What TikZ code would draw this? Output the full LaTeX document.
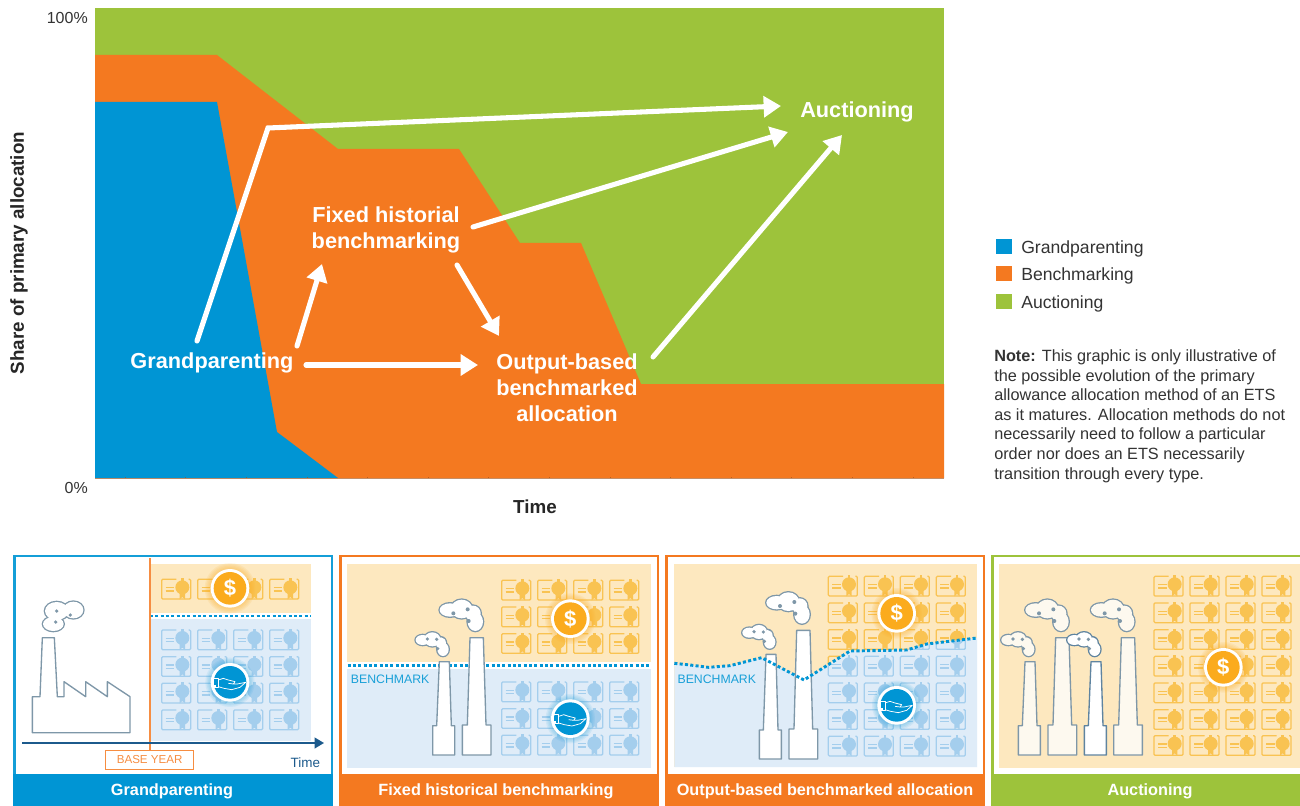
\documentclass[tikz,border=0pt]{standalone}
\usepackage{fontspec}
\setmainfont{Liberation Sans}
\usetikzlibrary{arrows.meta,calc}
\definecolor{cBlue}{HTML}{0095D4}
\definecolor{cOrange}{HTML}{F47920}
\definecolor{cGreen}{HTML}{9DC33B}
\definecolor{bgOr}{HTML}{FDE8BF}
\definecolor{bgBl}{HTML}{DFECF8}
\definecolor{certOr}{HTML}{F9C352}
\definecolor{certBl}{HTML}{A4CEED}
\definecolor{coinOr}{HTML}{FBAB1D}
\definecolor{smoke}{HTML}{7E97A8}
\definecolor{smokeDk}{HTML}{5F84A0}
\definecolor{cream}{HTML}{FDF9EF}
\definecolor{axisBlue}{HTML}{1C5A8C}
\definecolor{txt}{HTML}{333333}
\tikzset{
  wline/.style={draw=white,line width=3.8pt,line cap=round,-{Triangle[length=13pt,width=15.5pt]}},
  chartlbl/.style={text=white,font=\bfseries\fontsize{16.3pt}{19.6pt}\selectfont,align=center,inner sep=0pt},
  footlbl/.style={text=white,font=\bfseries\fontsize{12.2pt}{14pt}\selectfont,inner sep=0pt},
  axislbl/.style={text=txt,font=\fontsize{12pt}{14pt}\selectfont,inner sep=0pt},
  axisttl/.style={text=black!85,font=\bfseries\fontsize{14.1pt}{16pt}\selectfont,inner sep=0pt},
  leglbl/.style={text=txt,font=\fontsize{13.2pt}{15pt}\selectfont,inner sep=0pt,anchor=west},
  bench/.style={text=cBlue!90!white,font=\fontsize{9.2pt}{11pt}\selectfont,inner sep=0pt,anchor=west},
  zoomed/.style={x=0.25pt,y=-0.25pt},
  dotline/.style={draw=cBlue,line width=2.2pt,dash pattern=on 2.3pt off 1.7pt},
  panelline/.style={line width=2.2pt},
  stackline/.style={line width=1pt,line join=round},
}
% certificate, in zoomed units; x, y, colour
\newcommand{\cert}[3]{%
  \begin{scope}[shift={(#1,#2)}]
    \draw[#3,line width=.95pt,rounded corners=.8pt] (44,3) -- (0,3) -- (0,62) -- (87,62) -- (87,3) -- (81,3);
    \draw[#3,line width=.95pt] (12,28) -- (38,28) (12,38) -- (38,38);
    \fill[#3] (58,0) rectangle (66,10);
    \fill[#3] (54,40) -- (54,63) -- (62,56) -- (70,63) -- (70,40) -- cycle;
    \fill[#3] (62,27) circle[radius=21];
  \end{scope}}
% cloud made of lobes: list x/y/rx/ry, fill, line colour
\newcommand{\puff}[3]{%
  \foreach \a/\b/\c/\d in {#1} \fill[#3] (\a,\b) ellipse[x radius=\c,y radius=\d];
  \foreach \a/\b/\c/\d in {#1} \fill[#2] (\a,\b) ellipse[x radius=\c-4,y radius=\d-4];}
% big and small cloud, x and y shift, fill, line colour
\newcommand{\bigcloud}[4]{%
  \begin{scope}[shift={(#1,#2)}]
    \puff{345/180/35/24,380/177/36/32,414/190/27/27,421/215/27/32}{#3}{#4}
    \foreach \p in {(355,190),(398,178),(401,213)} \fill[smoke] \p circle[radius=6];
  \end{scope}}
\newcommand{\smcloud}[4]{%
  \begin{scope}[shift={(#1,#2)}]
    \puff{263/270/25/19,292/268/28/25,318/280/19/22,324/298/21/24}{#3}{#4}
    \foreach \p in {(277,267),(305,268),(308,296)} \fill[smoke] \p circle[radius=5.5];
  \end{scope}}
% chimneys: x, top, shoulder, bottom, fill, line colour
\newcommand{\smchim}[6]{\draw[#6,fill=#5,stackline] (#1,#4) -- (#1,#3) -- ({#1+12},#3) -- ({#1+20},#2) -- ({#1+50},#2) -- ({#1+56},#3) -- ({#1+66},#3) -- ({#1+66},#4) -- cycle;}
\newcommand{\lgchim}[6]{\draw[#6,fill=#5,stackline] (#1,#4) -- (#1,#3) -- ({#1+15},#3) -- ({#1+23},#2) -- ({#1+63},#2) -- ({#1+71},#3) -- ({#1+86},#3) -- ({#1+86},#4) -- cycle;}
% coin with dollar: name, x, y
\newcommand{\coin}[3]{%
  \foreach \r in {76,72,68,64,60} \fill[coinOr,opacity=.1] (#2,#3) circle[radius=\r];
  \fill[white] (#2,#3) circle[radius=58];
  \fill[coinOr] (#2,#3) circle[radius=49];
  \node[text=white,inner sep=0pt,font=\bfseries\fontsize{16.5pt}{18pt}\selectfont] (#1) at (#2,#3) {\$};}
% blue hand badge: x, y
\newcommand{\hand}[2]{%
  \foreach \r in {74,70,66,62} \fill[cBlue,opacity=.08] (#1,#2) circle[radius=\r];
  \fill[white] (#1,#2) circle[radius=58];
  \fill[cBlue] (#1,#2) circle[radius=49];
  \begin{scope}[shift={(#1,#2)}]
    \draw[white,line width=.55pt,line join=round] (-50,-13) rectangle (-35,15);
    \fill[white] (-50,8) rectangle (-42,15);
    \draw[white,line width=.55pt,line join=round] (-35,-7) -- (-20,-12) -- (-5,-7) -- (15,-2) -- (10,5) -- (-5,3) (10,5) -- (22,5) -- (47,0) -- (30,15) -- (5,22) -- (-18,18) -- (-35,13);
  \end{scope}}
\begin{document}
\begin{tikzpicture}[x=0.75pt,y=-0.75pt]
\useasboundingbox (0,0) rectangle (1300,806);
\fill[white] (0,0) rectangle (1300,806);
% chart
\fill[cGreen] (95,8) rectangle (944,478);
\fill[cOrange] (95,55) -- (217,55) -- (338,149) -- (459,149) -- (520,243) -- (581,243) -- (641,384) -- (944,384) -- (944,478) -- (95,478) -- cycle;
\fill[cBlue] (95,102) -- (217,102) -- (277,432) -- (338,478) -- (95,478) -- cycle;
\draw[black!35!cOrange,line width=.4pt,opacity=.6] (95,478) -- (944,478);
\foreach \k in {0,...,13} \draw[black!35!cOrange,line width=.4pt,opacity=.6] ({125+60.6*\k},478) -- ({125+60.6*\k},476.5);
\node[axislbl,anchor=east] (top) at (88,18) {100\%};
\node[axislbl,anchor=east] (bot) at (88,488) {0\%};
\node[axisttl] (tm) at (535,507) {Time};
\node[axisttl,rotate=90] (sh) at (19,253) {Share of primary allocation};
% chart labels
\node[chartlbl] (gp) at (212,363) {Grandparenting};
\node[chartlbl] (fx) at (386,230) {Fixed historial\\benchmarking};
\node[chartlbl] (ob) at (567,388) {Output-based\\benchmarked\\allocation};
\node[chartlbl] (au) at (857,112) {Auctioning};
% connectors
\draw[wline] ($(gp)+(-15,-22)$) -- ($(gp)+(56,-235)$) -- ($(au)+(-76,-6)$);
\draw[wline] ($(gp)+(85,-17)$) -- ($(fx)+(-64,34)$);
\draw[wline] ($(gp)+(94,2)$) -- ($(ob)+(-89,-23)$);
\draw[wline] ($(fx)+(87,-3)$) -- ($(au)+(-69,20)$);
\draw[wline] ($(fx)+(71,35)$) -- ($(ob)+(-68,-52)$);
\draw[wline] ($(ob)+(86,-31)$) -- ($(au)+(-15,23)$);
% legend
\fill[cBlue] (996,239) rectangle (1012,254);
\fill[cOrange] (996,266) rectangle (1012,281);
\fill[cGreen] (996,294) rectangle (1012,309);
\node[leglbl] (l1) at (1021,249) {Grandparenting};
\node[leglbl] (l2) at (1021,276) {Benchmarking};
\node[leglbl] (l3) at (1021,304) {Auctioning};
\node[anchor=north west,inner sep=0pt,text=txt,align=left,font=\fontsize{12.2pt}{14.7pt}\selectfont] (note) at (994,349.5) {\textbf{Note:} This graphic is only illustrative of\\the possible evolution of the primary\\allowance allocation method of an ETS\\as it matures. Allocation methods do not\\necessarily need to follow a particular\\order nor does an ETS necessarily\\transition through every type.};
% panel frames
\draw[cBlue!92!white,panelline] (14.5,774) -- (14.5,556) -- (332,556) -- (332,774);
\fill[cBlue] (13,774) rectangle (333,806);
\draw[cOrange,panelline] (340.5,774) -- (340.5,556) -- (658,556) -- (658,774);
\fill[cOrange] (339,774) rectangle (659,806);
\draw[cOrange,panelline] (666.5,774) -- (666.5,556) -- (984,556) -- (984,774);
\fill[cOrange] (665,774) rectangle (985,806);
\draw[cGreen,panelline] (992.5,774) -- (992.5,556) -- (1300,556);
\fill[cGreen] (991,774) rectangle (1300,806);
\node[footlbl] (f1) at (172,791) {Grandparenting};
\node[footlbl] (f2) at (496,791) {Fixed historical benchmarking};
\node[footlbl] (f3) at (825,791) {Output-based benchmarked allocation};
\node[footlbl] (f4) at (1150,791) {Auctioning};
% panel 1
\begin{scope}[shift={(0,550)},zoomed]
  \fill[bgOr] (450,42) rectangle (933,190);
  \fill[bgBl] (450,206) rectangle (933,573);
  \foreach \x in {485,593,701,809} {
    \cert{\x}{85}{certOr}
    \foreach \y in {237,317,397,477} {\cert{\x}{\y}{certBl}}
  }
  \draw[dotline] (450,198) -- (933,198);
  \draw[cOrange!85!white,line width=.8pt] (450,25) -- (450,600);
  \draw[smoke,stackline] (97,548) -- (97,440) -- (120,440) -- (127,263) -- (163,263) -- (172,440) -- (192,440) -- (192,395) -- (257,440) -- (257,395) -- (322,440) -- (322,395) -- (390,440) -- (390,548) -- cycle;
  \puff{170/183/39/31,220/180/34/29,160/222/35/25}{white}{smoke}
  \foreach \p in {(170,183),(211,195),(167,216)} \fill[smoke] \p circle[radius=5.5];
  \draw[axisBlue,line width=1.4pt,-{Triangle[length=7pt,width=8pt]}] (67,579) -- (972,579);
  \node[draw=cOrange!85!white,line width=.8pt,fill=white,text=cOrange!85!white,inner sep=0pt,minimum width=66pt,minimum height=14pt,font=\fontsize{8.7pt}{10pt}\selectfont] (base) at (449,629.5) {BASE YEAR};
  \node[text=axisBlue,inner sep=0pt,font=\fontsize{10.1pt}{12pt}\selectfont] (t1) at (916,637) {Time};
  \coin{c1}{690}{115}
  \hand{690}{397}
\end{scope}
% panel 2
\begin{scope}[shift={(335,550)},zoomed]
  \fill[bgOr] (36,42) rectangle (948,336);
  \fill[bgBl] (36,358) rectangle (948,654);
  \foreach \x in {500,608,716,824} {
    \foreach \y in {88,168,248} {\cert{\x}{\y}{certOr}}
    \foreach \y in {393,473,553} {\cert{\x}{\y}{certBl}}
  }
  \draw[dotline] (38,347) -- (948,347);
  \node[bench] (b2) at (47,389) {BENCHMARK};
  \smchim{293}{335}{527}{615}{white}{smoke}
  \lgchim{382}{263}{525}{615}{white}{smoke}
  \bigcloud{0}{0}{white}{smoke}
  \smcloud{0}{0}{white}{smoke}
  \coin{c2}{706}{206}
  \hand{706}{506}
\end{scope}
% panel 3
\begin{scope}[shift={(660,550)},zoomed]
  \fill[bgOr] (43,42) rectangle (951,651);
  \fill[bgBl] (43,340) -- (90,345) -- (145,352) -- (210,347) -- (305,323) -- (432,390) -- (570,303) -- (740,300) -- (800,282) -- (951,264) -- (951,651) -- (43,651) -- cycle;
  \begin{scope}
    \clip (43,42) -- (43,340) -- (90,345) -- (145,352) -- (210,347) -- (305,323) -- (432,390) -- (570,303) -- (740,300) -- (800,282) -- (951,264) -- (951,42) -- cycle;
    \foreach \x in {505,613,721,829} {\foreach \y in {76,156,236,316} {\cert{\x}{\y}{certOr}}}
  \end{scope}
  \begin{scope}
    \clip (43,340) -- (90,345) -- (145,352) -- (210,347) -- (305,323) -- (432,390) -- (570,303) -- (740,300) -- (800,282) -- (951,264) -- (951,651) -- (43,651) -- cycle;
    \foreach \x in {505,613,721,829} {\foreach \y in {236,316,396,476,556} {\cert{\x}{\y}{certBl}}}
  \end{scope}
  \smchim{298}{313}{540}{627}{white}{smoke}
  \lgchim{387}{241}{537}{627}{white}{smoke}
  \bigcloud{5}{-22}{white}{smoke}
  \smcloud{5}{-22}{white}{smoke}
  \draw[dotline] (43,340) -- (90,345) -- (145,352) -- (210,347) -- (305,323) -- (432,390) -- (570,303) -- (740,300) -- (800,282) -- (951,264);
  \node[bench] (b3) at (52,389) {BENCHMARK};
  \coin{c3}{710}{190}
  \hand{710}{466}
\end{scope}
% panel 4
\begin{scope}[shift={(985,550)},zoomed]
  \fill[bgOr] (42,42) rectangle (945,654);
  \foreach \x in {507,615,723,831} {\foreach \y in {76,156,236,316,396,476,554} {\cert{\x}{\y}{certOr}}}
  \smchim{100}{335}{527}{615}{cream}{smoke}
  \lgchim{189}{263}{525}{615}{cream}{smoke}
  \lgchim{386}{263}{525}{615}{cream}{smoke}
  \bigcloud{-193}{0}{cream}{smoke}
  \bigcloud{4}{0}{cream}{smoke}
  \smcloud{-193}{0}{cream}{smoke}
  \smchim{298}{335}{527}{615}{white}{smokeDk}
  \smcloud{5}{0}{white}{smokeDk}
  \coin{c4}{715}{352}
\end{scope}
\end{tikzpicture}
\end{document}
